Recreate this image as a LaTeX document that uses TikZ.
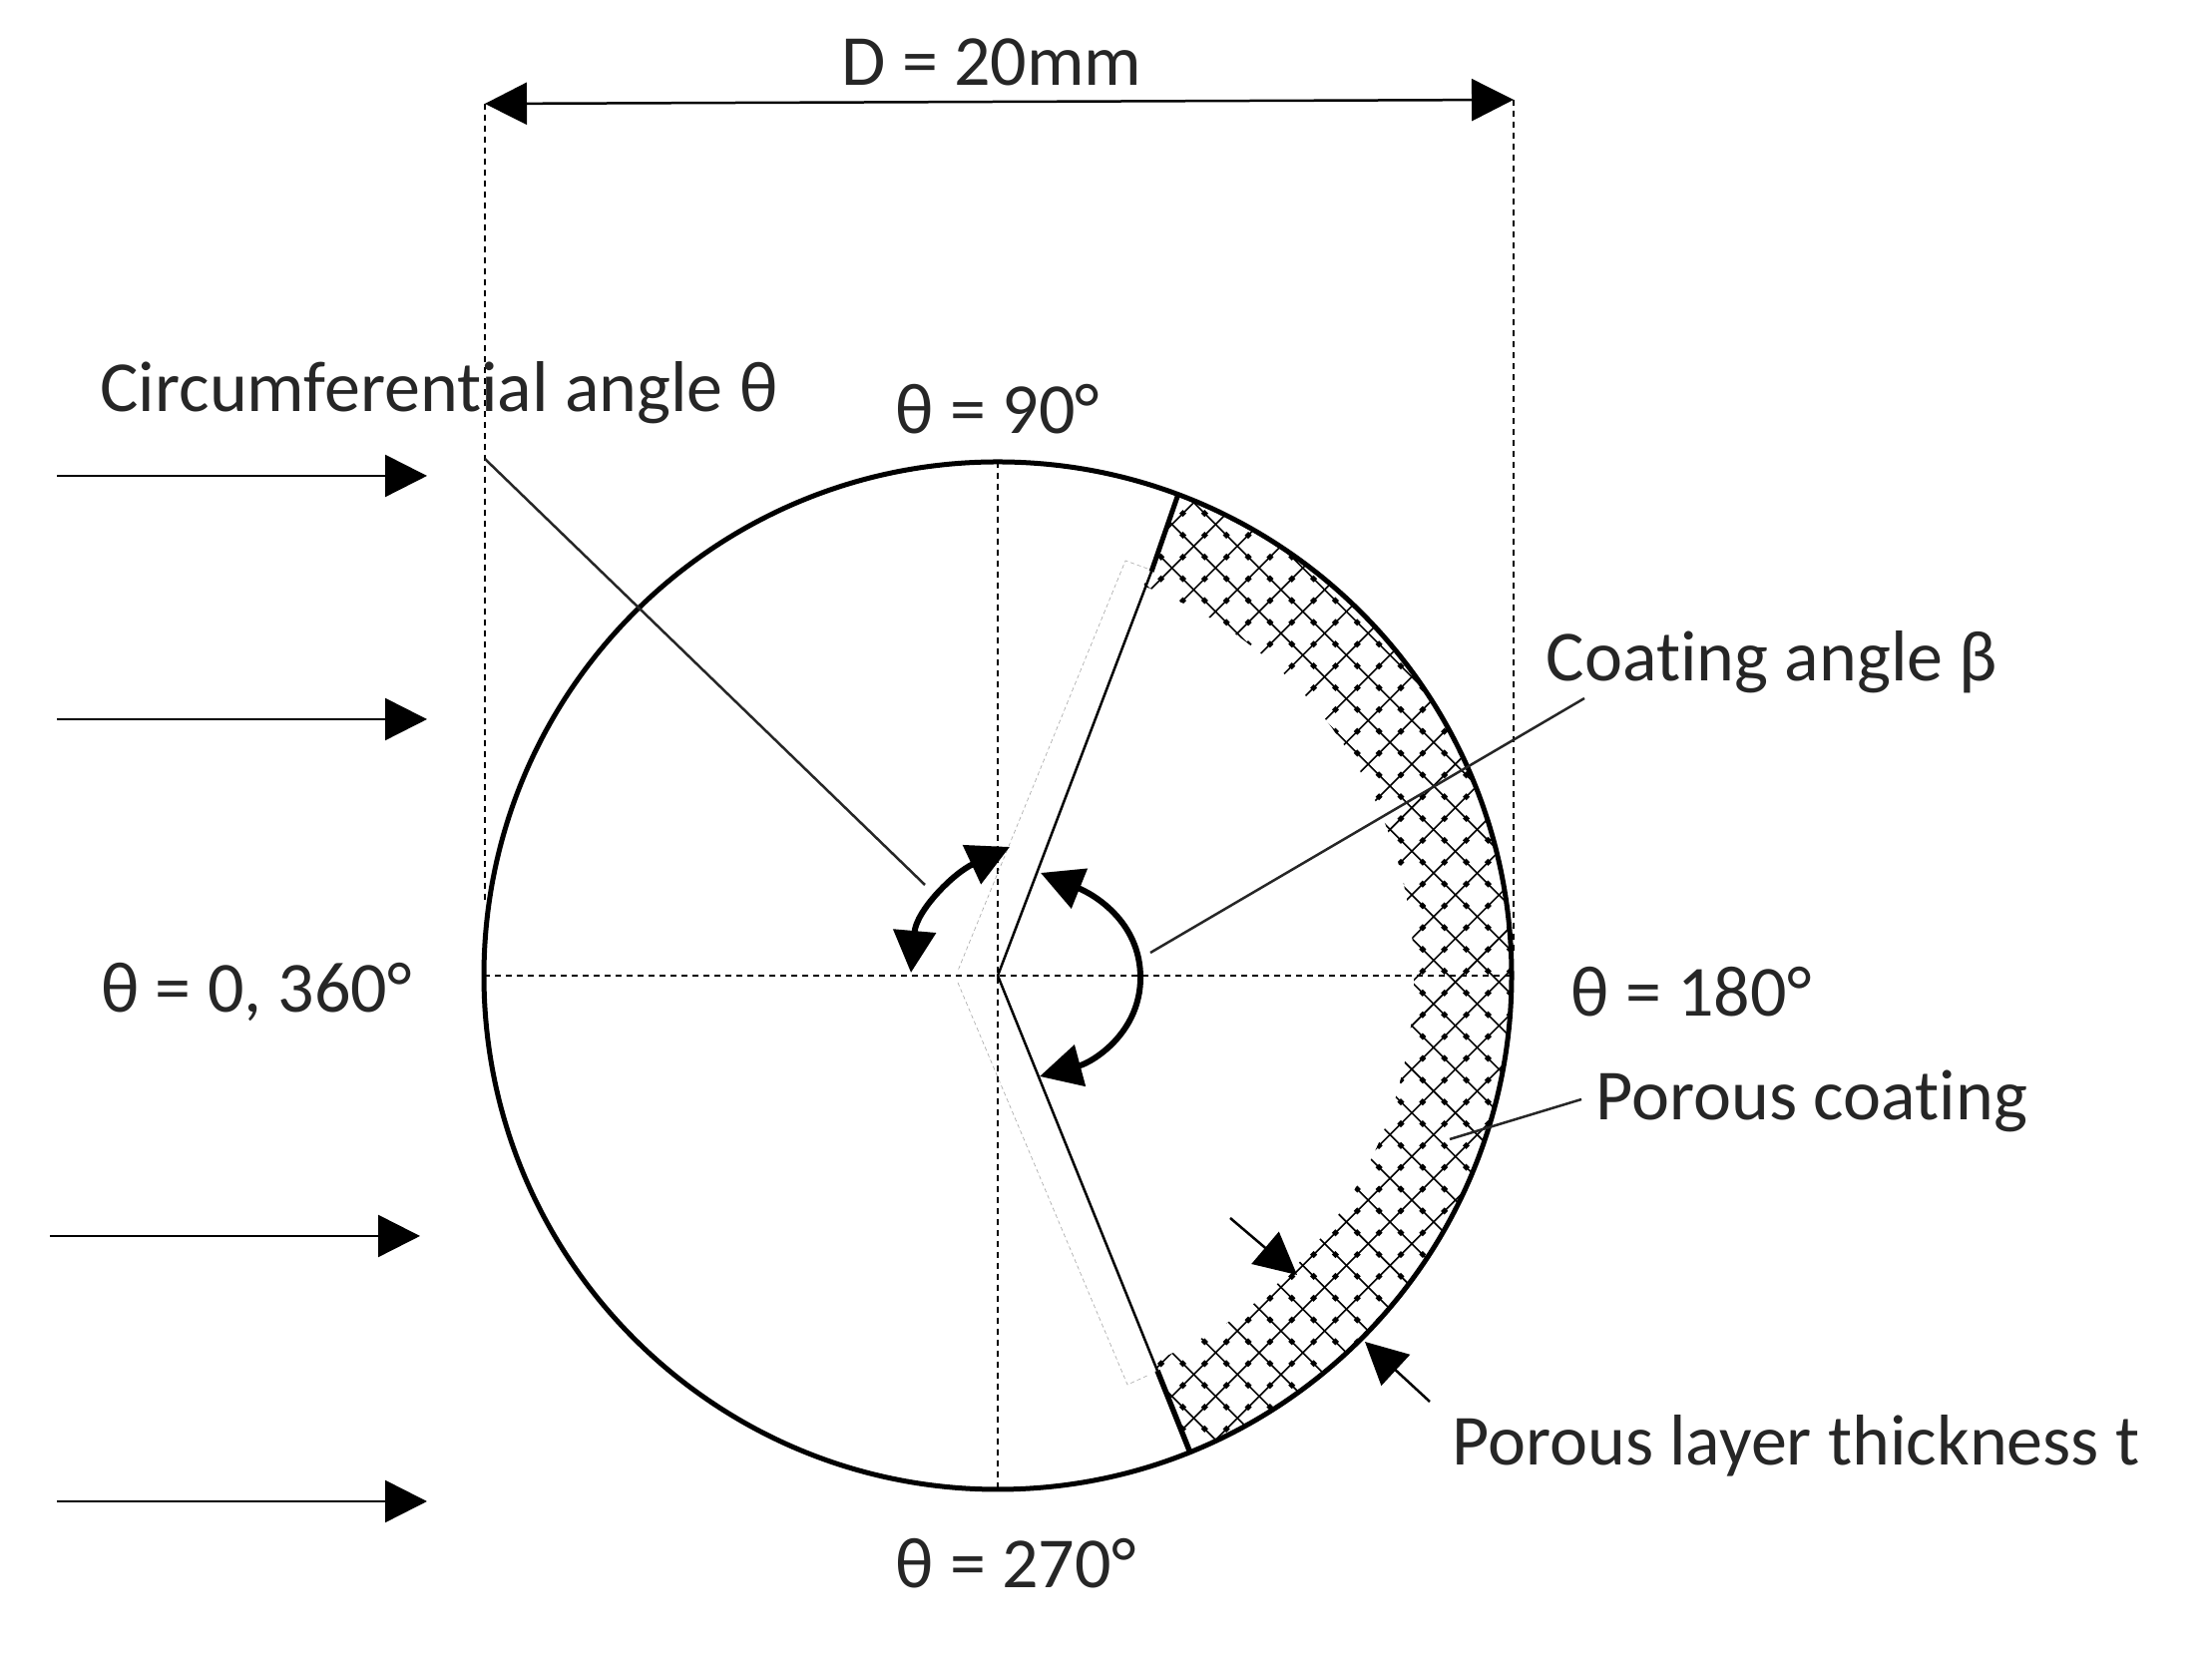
\documentclass[tikz,border=0pt]{standalone}
\usepackage{fontspec}
\setmainfont[RawFeature=-liga]{Carlito}
\usepackage{tikz}
\usetikzlibrary{arrows.meta}

\tikzset{
  lbl/.style={font=\fontsize{20.5}{24}\selectfont, inner sep=0pt, black!85},
  thinline/.style={line width=0.025cm, black!85},
  dashline/.style={line width=0.025cm, dash pattern=on 0.06cm off 0.05cm},
  ghostline/.style={line width=0.006cm, black!35, dash pattern=on 0.04cm off 0.03cm},
  bigarrow/.style={line width=0.025cm, -{Triangle[length=0.42cm, width=0.42cm]}},
  bendarrow/.style={line width=0.06cm, {Triangle[length=0.42cm, width=0.42cm]}-{Triangle[length=0.42cm, width=0.42cm]}},
  hatchline/.style={line width=0.016cm},
  hatchdot/.style={line width=0.05cm, dash pattern=on 0.05cm off 0.259cm, dash phase=0.18cm}
}

\begin{document}
\begin{tikzpicture}
    \useasboundingbox (0,0) rectangle (22.17,16.66);

    \coordinate (c) at (10.00,6.88);
    \coordinate (topcut) at (11.54,10.93);
    \coordinate (toprim) at (11.81,11.71);
    \coordinate (botcut) at (11.60,2.92);
    \coordinate (botrim) at (11.92,2.12);

    \begin{scope}
        \clip (c) ++(69.5:5.15) arc (69.5:-68:5.15) -- ++(112:0.98) arc (-68:69.5:4.17) -- cycle;
        \foreach \k in {-6,...,29} {
            \draw[hatchline] (10.435,{10.967-(8+2*\k)*0.2185}) -- ++(5.5,5.5);
            \draw[hatchdot] (10.435,{10.967-(8+2*\k)*0.2185}) -- ++(5.5,5.5);
        }
        \foreach \k in {-25,...,11} {
            \draw[hatchline] (10.435,{10.967+(8+2*\k)*0.2185}) -- ++(5.5,-5.5);
            \draw[hatchdot] (10.435,{10.967+(8+2*\k)*0.2185}) -- ++(5.5,-5.5);
        }
    \end{scope}

    \node (pipe) at (c) [circle, draw, line width=0.05cm, minimum size=10.3cm, inner sep=0pt, outer sep=0pt] {};

    \coordinate (dimleft) at (4.86,15.62);
    \coordinate (dimright) at (15.17,15.66);
    \coordinate (dashleft) at (4.86,7.60);
    \coordinate (dashright) at (15.17,7.10);

    \draw[dashline] (dimleft) -- (dashleft);
    \draw[dashline] (dimright) -- (dashright);
    \draw[dashline] (pipe.north) -- (pipe.south);
    \draw[dashline] (pipe.west) -- (pipe.east);
    \draw[bigarrow, {Triangle[length=0.42cm, width=0.42cm]}-{Triangle[length=0.42cm, width=0.42cm]}] (dimleft) -- (dimright);

    \draw[line width=0.025cm] (c) -- (topcut);
    \draw[line width=0.025cm] (c) -- (botcut);
    \draw[line width=0.05cm] (topcut) -- (toprim);
    \draw[line width=0.055cm] (botcut) -- (botrim);

    \draw[ghostline] (11.50,10.96) -- (11.28,11.04) -- (9.60,6.93);
    \draw[ghostline] (9.60,6.81) -- (11.30,2.78) -- (11.52,2.88);

    \coordinate (flow1a) at (0.57,11.89);
    \coordinate (flow1b) at (4.28,11.89);
    \coordinate (flow2a) at (0.57,9.45);
    \coordinate (flow2b) at (4.28,9.45);
    \coordinate (flow3a) at (0.50,4.27);
    \coordinate (flow3b) at (4.21,4.27);
    \coordinate (flow4a) at (0.57,1.61);
    \coordinate (flow4b) at (4.28,1.61);
    \draw[bigarrow] (flow1a) -- (flow1b);
    \draw[bigarrow] (flow2a) -- (flow2b);
    \draw[bigarrow] (flow3a) -- (flow3b);
    \draw[bigarrow] (flow4a) -- (flow4b);

    \coordinate (circa) at (4.86,12.06);
    \coordinate (circb) at (9.27,7.79);
    \coordinate (coata) at (15.88,9.66);
    \coordinate (coatb) at (11.53,7.11);
    \coordinate (poroa) at (15.85,5.64);
    \coordinate (porob) at (14.53,5.24);
    \draw[thinline] (circa) -- (circb);
    \draw[thinline] (coata) -- (coatb);
    \draw[thinline] (poroa) -- (porob);

    \coordinate (arcl1) at (9.13,6.91);
    \coordinate (arcl2) at (10.12,8.17);
    \coordinate (arcr1) at (10.43,7.91);
    \coordinate (arcr2) at (11.43,6.86);
    \coordinate (arcr3) at (10.42,5.87);
    \draw[bendarrow] (arcl1) to[out=85, in=205] (arcl2);
    \draw[bendarrow] (arcr1) to[out=-22, in=90] (arcr2) to[out=-90, in=15] (arcr3);

    \coordinate (thka) at (12.33,4.45);
    \coordinate (thkb) at (13.00,3.88);
    \coordinate (thkc) at (14.33,2.61);
    \coordinate (thkd) at (13.68,3.21);
    \draw[bigarrow] (thka) -- (thkb);
    \draw[bigarrow] (thkc) -- (thkd);

    \node[lbl] (dlabel) at (9.94,16.04) {D = 20mm};
    \node[lbl] (circlabel) at (4.40,12.72) {Circumferential angle θ};
    \node[lbl] (top) at (10.00,12.56) {θ = 90°};
    \node[lbl] (coatlabel) at (17.76,10.02) {Coating angle β};
    \node[lbl] (left) at (2.57,6.72) {θ = 0, 360°};
    \node[lbl] (right) at (16.95,6.72) {θ = 180°};
    \node[lbl] (porolabel) at (18.16,5.62) {Porous coating};
    \node[lbl] (thklabel) at (18.00,2.17) {Porous layer thickness t};
    \node[lbl] (bottom) at (10.18,0.99) {θ = 270°};
\end{tikzpicture}
\end{document}
